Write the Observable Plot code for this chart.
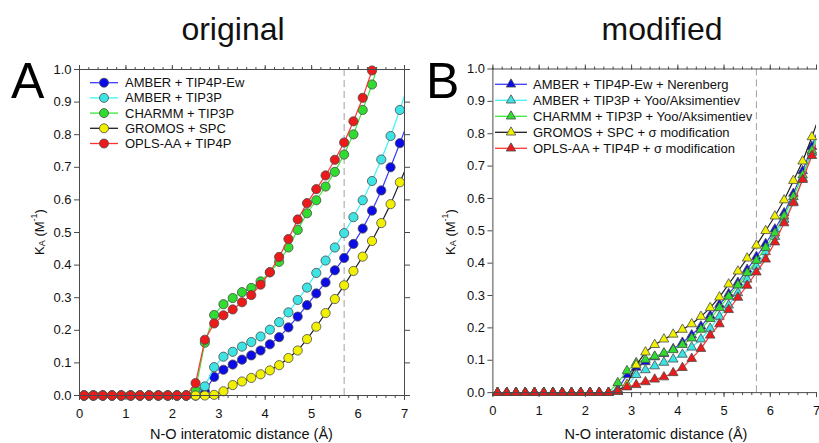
<!DOCTYPE html>
<html><head><meta charset="utf-8">
<script src="https://cdn.jsdelivr.net/npm/d3@7"></script>
<script src="https://cdn.jsdelivr.net/npm/@observablehq/plot@0.6"></script>
<style>
html,body{margin:0;padding:0;background:#fff;}
#wrap{position:relative;width:819px;height:443px;overflow:hidden;font-family:'Liberation Sans',Arial,sans-serif;background:#fff;}
#wrap > div, #wrap > svg {position:absolute;top:0;}
</style></head><body><div id="wrap"></div>
<script>
// ---- data ----
const distance = [0.1,0.3,0.5,0.7,0.9,1.1,1.3,1.5,1.7,1.9,2.1,2.3,2.5,2.7,2.9,3.1,3.3,3.5,3.7,3.9,4.1,4.3,4.5,4.7,4.9,5.1,5.3,5.5,5.7,5.9,6.1,6.3,6.5,6.7,6.9,7.1];
const cutoffDistance = 5.7;
const xTickLabels = [0,1,2,3,4,5,6,7];
const yTickLabels = [0.0,0.1,0.2,0.3,0.4,0.5,0.6,0.7,0.8,0.9,1.0];

const namesOriginal = ["AMBER + TIP4P-Ew","AMBER + TIP3P","CHARMM + TIP3P","GROMOS + SPC","OPLS-AA + TIP4P"];
const namesModified = ["AMBER + TIP4P-Ew + Nerenberg","AMBER + TIP3P + Yoo/Aksimentiev","CHARMM + TIP3P + Yoo/Aksimentiev","GROMOS + SPC + \u03c3 modification","OPLS-AA + TIP4P + \u03c3 modification"];
const markerColors = ["#0b0be8","#3ee4e4","#30dc30","#f0f000","#ec1a1a"];
const lineColors = ["#3a3aff","#3cf4f4","#3ae83a","#1e1e1e","#ff3434"];

// panel A (original)
const amberTip4pEwA = [0,0,0,0,0,0,0,0,0,0,0,0,0,0.013,0.057,0.079,0.095,0.110,0.123,0.138,0.157,0.179,0.209,0.242,0.277,0.313,0.347,0.384,0.422,0.465,0.512,0.567,0.629,0.700,0.774,0.850];
const amberTip3pA   = [0,0,0,0,0,0,0,0,0,0,0,0,0,0.028,0.087,0.119,0.134,0.150,0.164,0.181,0.202,0.225,0.255,0.293,0.331,0.376,0.414,0.454,0.498,0.547,0.599,0.658,0.724,0.796,0.876,0.965];
const charmmTip3pA  = [0,0,0,0,0,0,0,0,0,0,0,0,0.018,0.162,0.247,0.280,0.299,0.317,0.330,0.350,0.378,0.410,0.454,0.508,0.559,0.599,0.641,0.686,0.739,0.801,0.876,0.954,1.050,null,null,null];
const gromosSpcA    = [0,0,0,0,0,0,0,0,0,0,0,0,0,0,0.002,0.013,0.032,0.043,0.054,0.065,0.077,0.093,0.115,0.138,0.173,0.211,0.253,0.296,0.338,0.382,0.426,0.474,0.529,0.587,0.654,0.720];
const oplsTip4pA    = [0,0,0,0,0,0,0,0,0,0,0,0,0.038,0.171,0.221,0.246,0.264,0.286,0.308,0.340,0.378,0.425,0.480,0.540,0.590,0.633,0.675,0.723,0.776,0.841,0.913,0.997,1.090,null,null,null];

// panel B (modified)
const amberTip4pEwB = [0,0,0,0,0,0,0,0,0,0,0,0,0,0.010,0.055,0.078,0.095,0.110,0.120,0.135,0.155,0.178,0.205,0.238,0.272,0.305,0.340,0.380,0.420,0.460,0.505,0.555,0.615,0.685,0.760,0.840];
const amberTip3pB   = [0,0,0,0,0,0,0,0,0,0,0,0,0,0.005,0.020,0.055,0.070,0.082,0.093,0.103,0.118,0.140,0.165,0.198,0.235,0.270,0.308,0.350,0.390,0.435,0.482,0.535,0.590,0.662,0.742,0.820];
const charmmTip3pB  = [0,0,0,0,0,0,0,0,0,0,0,0,0,0.030,0.067,0.092,0.102,0.112,0.122,0.132,0.148,0.168,0.195,0.228,0.262,0.297,0.332,0.370,0.408,0.448,0.493,0.545,0.605,0.672,0.748,0.830];
const gromosSpcB    = [0,0,0,0,0,0,0,0,0,0,0,0,0,0.005,0.025,0.085,0.125,0.148,0.165,0.180,0.195,0.212,0.235,0.262,0.295,0.335,0.375,0.415,0.455,0.500,0.545,0.595,0.655,0.715,0.790,0.870];
const oplsTip4pB    = [0,0,0,0,0,0,0,0,0,0,0,0,0,0.003,0.017,0.024,0.033,0.041,0.048,0.061,0.077,0.105,0.136,0.177,0.212,0.256,0.294,0.331,0.372,0.412,0.465,0.524,0.586,0.658,0.732,0.810];

const seriesA = [amberTip4pEwA, amberTip3pA, charmmTip3pA, gromosSpcA, oplsTip4pA];
const seriesB = [amberTip4pEwB, amberTip3pB, charmmTip3pB, gromosSpcB, oplsTip4pB];

// ---- drawing ----
const FONT = "'Liberation Sans', Arial, sans-serif";
const AX = "#4a4a4a";
const minorX = d3.range(0, 7.001, 0.2).map(v => +v.toFixed(1));

function panel(series, symbol, r, opts) {
  const marks = [
    Plot.ruleX([cutoffDistance], {stroke: "#a0a0a0", strokeDasharray: "7,4", strokeWidth: 1})
  ];
  series.forEach((vals, i) => {
    const rows = [];
    vals.forEach((v, k) => { if (v != null) rows.push({x: distance[k], y: v}); });
    marks.push(Plot.line(rows, {x: "x", y: "y", stroke: lineColors[i], strokeWidth: 1.2, clip: true}));
    marks.push(Plot.dot(rows.filter(d => d.y <= 1 && d.x <= 7), {x: "x", y: "y", r, symbol, fill: markerColors[i], stroke: "#4a4a4a", strokeWidth: 0.8}));
  });
  marks.push(
    Plot.ruleY([0, 1], {stroke: AX, strokeWidth: 1}),
    Plot.ruleX(opts.right ? [0, 7] : [0], {stroke: AX, strokeWidth: 1}),
    Plot.axisX({ticks: xTickLabels, tickSize: 5, tickPadding: 8, fontSize: 13, stroke: AX, fill: "#111", label: null, tickFormat: d => String(d)}),
    Plot.axisX({ticks: minorX, tickSize: 3, fill: "none", stroke: AX, label: null}),
    Plot.axisX({anchor: "top", ticks: xTickLabels, tickSize: 5, fill: "none", stroke: AX, label: null}),
    Plot.axisX({anchor: "top", ticks: minorX, tickSize: 3, fill: "none", stroke: AX, label: null}),
    Plot.axisY({ticks: yTickLabels, tickSize: 5, tickPadding: 3, fontSize: 13, stroke: AX, fill: "#111", label: null, tickFormat: d => d.toFixed(1)})
  );
  if (opts.right) marks.push(Plot.axisY({anchor: "right", ticks: yTickLabels, tickSize: 5, fill: "none", stroke: AX, label: null}));
  return Plot.plot({
    width: opts.width, height: 443,
    marginTop: 69, marginBottom: 48, marginLeft: opts.ml, marginRight: opts.mr,
    x: {domain: [0, 7]}, y: {domain: [0, 1]},
    style: {fontFamily: FONT, background: "transparent", color: "#111", overflow: "visible"},
    marks
  });
}

const wrap = document.getElementById("wrap");
const pA = panel(seriesA, "circle", 4.6, {width: 410, ml: 79, mr: 6, right: true});
const dA = document.createElement("div"); dA.style.left = "0px"; dA.appendChild(pA); wrap.appendChild(dA);
const pB = panel(seriesB, "triangle", 3.6, {width: 412, ml: 83, mr: 3, right: false});
const dB = document.createElement("div"); dB.style.left = "410px"; dB.appendChild(pB); wrap.appendChild(dB);

// ---- overlay texts & legends ----
const ov = d3.select(wrap).append("svg").attr("width", 819).attr("height", 443)
  .style("left", "0px").style("font-family", FONT).style("pointer-events", "none");

ov.append("text").attr("x", 233).attr("y", 40).attr("text-anchor", "middle").attr("font-size", 32).attr("fill", "#111").text("original");
ov.append("text").attr("x", 662).attr("y", 40).attr("text-anchor", "middle").attr("font-size", 32).attr("fill", "#111").text("modified");
ov.append("text").attr("x", 11).attr("y", 98).attr("font-size", 50).attr("fill", "#000").text("A");
ov.append("text").attr("x", 426).attr("y", 98).attr("font-size", 50).attr("fill", "#000").text("B");

[[241.5, 439], [656, 439]].forEach(([cx, cy]) => {
  ov.append("text").attr("x", cx).attr("y", cy).attr("text-anchor", "middle").attr("font-size", 14.5).attr("fill", "#111").text("N-O interatomic distance (\u00c5)");
});

[[39, 232], [450, 232]].forEach(([cx, cy]) => {
  const t = ov.append("text").attr("transform", `translate(${cx},${cy}) rotate(-90)`).attr("text-anchor", "middle")
    .attr("dominant-baseline", "central").attr("font-size", 13).attr("fill", "#111");
  t.append("tspan").text("K");
  t.append("tspan").attr("font-size", 9).attr("dy", 3).text("A");
  t.append("tspan").attr("dy", -3).text(" (M");
  t.append("tspan").attr("font-size", 9).attr("dy", -5).text("-1");
  t.append("tspan").attr("dy", 5).text(")");
});

function legend(names, x1, x2, xm, xt, y0, dy, symbolType, size) {
  names.forEach((n, i) => {
    const y = y0 + dy * i;
    ov.append("line").attr("x1", x1).attr("x2", x2).attr("y1", y).attr("y2", y).attr("stroke", lineColors[i]).attr("stroke-width", 1.3);
    ov.append("path").attr("transform", `translate(${xm},${y})`).attr("d", d3.symbol(symbolType, size)())
      .attr("fill", markerColors[i]).attr("stroke", "#4a4a4a").attr("stroke-width", 0.8);
    ov.append("text").attr("x", xt).attr("y", y).attr("dominant-baseline", "central").attr("font-size", 13).attr("fill", "#111").text(n);
  });
}
legend(namesOriginal, 90, 118, 104, 125, 82.7, 15.2, d3.symbolCircle, Math.PI * 4.5 * 4.5);
legend(namesModified, 495, 527, 511, 533, 84.3, 16, d3.symbolTriangle, Math.PI * 3.5 * 3.5);
</script></body></html>
